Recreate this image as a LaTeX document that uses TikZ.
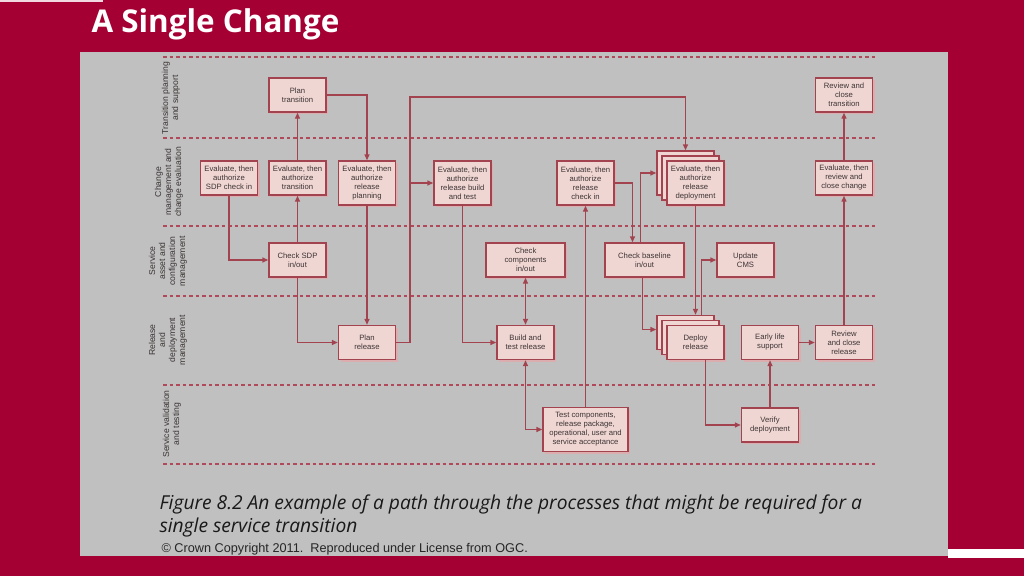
\documentclass[tikz,border=0pt]{standalone}
\usepackage{fontspec}
\setmainfont{Liberation Sans}
\newfontfamily\titlefont{Open Sans}
\newfontfamily\capfont{Open Sans}
\usetikzlibrary{arrows.meta,shadows}
\definecolor{slidered}{HTML}{A50034}
\definecolor{panelgray}{HTML}{C0C0C0}
\definecolor{linered}{HTML}{A3434F}
\definecolor{boxfill}{HTML}{F0D6D3}
\definecolor{glow}{HTML}{E4A9AA}
\definecolor{inkgray}{HTML}{3C3434}
\definecolor{dashred}{HTML}{B04A5A}
\tikzset{
  box/.style={draw=linered, fill=boxfill, line width=1.4pt, minimum width=57pt, minimum height=34pt,
    inner sep=1pt, align=center, text=inkgray, font=\fontsize{7.7}{9}\selectfont,
    drop shadow={shadow xshift=2pt, shadow yshift=-2pt, fill=glow, opacity=0.8}},
  tall/.style={minimum height=44pt},
  wide/.style={minimum width=79pt},
  tip/.tip={Triangle[length=6pt,width=5pt]},
  link/.style={draw=linered, line width=1.4pt, -tip},
  lane/.style={draw=dashred, line width=1.3pt, dash pattern=on 3.5pt off 3pt},
  lanelabel/.style={rotate=90, align=center, text=inkgray, font=\fontsize{8.6}{10}\selectfont}
}
\begin{document}
\begin{tikzpicture}[x=1pt,y=-1pt]
\fill[slidered] (0,0) rectangle (1024,576);
\fill[white!85!slidered] (0,0) rectangle (103,1.5);
\fill[white] (948,549) rectangle (1024,558);
\fill[panelgray] (80,52) rectangle (948,556);
\useasboundingbox (0,0) rectangle (1024,576);
\node[anchor=west, text=white, font=\titlefont\bfseries\fontsize{31.4}{34}\selectfont] (title) at (88,24) {A Single Change};
\foreach \y in {57,138,226,296,385,464}
  \draw[lane] (163,\y) -- (876,\y);
\node[lanelabel] (lplan) at (171,98) {Transition planning\\and support};
\node[lanelabel] (lchange) at (169,182) {Change\\management and\\change evaluation};
\node[lanelabel] (lasset) at (168,261) {Service\\asset and\\configuration\\management};
\node[lanelabel] (lrel) at (168,340) {Release\\and\\deployment\\management};
\node[lanelabel] (ltest) at (172,424) {Service validation\\and testing};
\node[box] (ptrans) at (297.5,95) {Plan\\transition};
\node[box] (sdpin) at (229,178) {Evaluate, then\\authorize\\SDP check in};
\node[box] (authtrans) at (297.5,178) {Evaluate, then\\authorize\\transition};
\node[box,tall] (relplan) at (367,183) {Evaluate, then\\authorize\\release\\planning};
\node[box,tall] (relbuild) at (462.5,183) {Evaluate, then\\authorize\\release build\\and test};
\node[box,tall] (relcheck) at (585.5,183) {Evaluate, then\\authorize\\release\\check in};
\node[box,tall] (deplB) at (685.5,173) {};
\node[box,tall] (deplM) at (690.5,178) {};
\node[box,tall] (depl) at (695.5,183) {Evaluate, then\\authorize\\release\\deployment};
\node[box] (revtrans) at (844,95) {Review and\\close\\transition};
\node[box] (revchg) at (844,178) {Evaluate, then\\review and\\close change};
\node[box] (chksdp) at (297.5,260) {Check SDP\\in/out};
\node[box,wide] (chkcomp) at (525.5,260) {Check\\components\\in/out};
\node[box,wide] (chkbase) at (644.5,260) {Check baseline\\in/out};
\node[box] (cms) at (745.5,260) {Update\\CMS};
\node[box] (prel) at (367,342.5) {Plan\\release};
\node[box] (build) at (525.5,342.5) {Build and\\test release};
\node[box] (deplrB) at (685.5,332.5) {};
\node[box] (deplrM) at (690.5,337.5) {};
\node[box] (deplr) at (695.5,342.5) {Deploy\\release};
\node[box] (early) at (770,342.5) {Early life\\support};
\node[box] (revrel) at (844,342.5) {Review\\and close\\release};
\node[box,tall,minimum width=85pt] (test) at (585.5,429.5) {Test components,\\release package,\\operational, user and\\service acceptance};
\node[box] (verify) at (770,425) {Verify\\deployment};
\coordinate (bend) at (410,97);
\draw[link] (ptrans.east) -| (relplan.north);
\draw[link] (authtrans.north) -- (ptrans.south);
\draw[link] (sdpin.south) |- (chksdp.west);
\draw[link] (chksdp.north) -- (authtrans.south);
\draw[link] (chksdp.south) |- (prel.west);
\draw[link] (relplan.south) -- (prel.north);
\draw[link] (prel.east) -| (bend) -| (deplB.north);
\draw[link] (bend |- relbuild.west) -- (relbuild.west);
\draw[link] (relbuild.south) |- (build.west);
\draw[link,tip-tip] (chkcomp.south) -- (build.north);
\draw[link,tip-tip] (build.south) |- (test.west);
\draw[link] (test.north) -- (relcheck.south);
\draw[link] (relcheck.east) -| ([xshift=-12pt]chkbase.north);
\draw[link] ([xshift=-4pt]chkbase.north) |- (deplB.west);
\draw[link] ([xshift=-2pt]chkbase.south) |- ([yshift=3pt]deplrB.west);
\draw[link] (depl.south) -- (depl.south |- deplrB.north);
\draw[link] ([xshift=16pt]deplrB.north) |- (cms.west);
\draw[link] ([xshift=10pt]deplr.south) |- (verify.west);
\draw[link] (verify.north) -- (early.south);
\draw[link] (early.east) -- (revrel.west);
\draw[link] (revrel.north) -- (revchg.south);
\draw[link] (revchg.north) -- (revtrans.south);
\node[anchor=north west, align=left, text=black!90, font=\capfont\itshape\fontsize{19.2}{23.5}\selectfont] (caption) at (156,491) {Figure 8.2 An example of a path through the processes that might be required for a\\single service transition};
\node[anchor=west, text=black!85, font=\fontsize{12.7}{14}\selectfont] (copyright) at (158,549) {\textcopyright{} Crown Copyright 2011.\ \ Reproduced under License from OGC.};
\end{tikzpicture}
\end{document}
